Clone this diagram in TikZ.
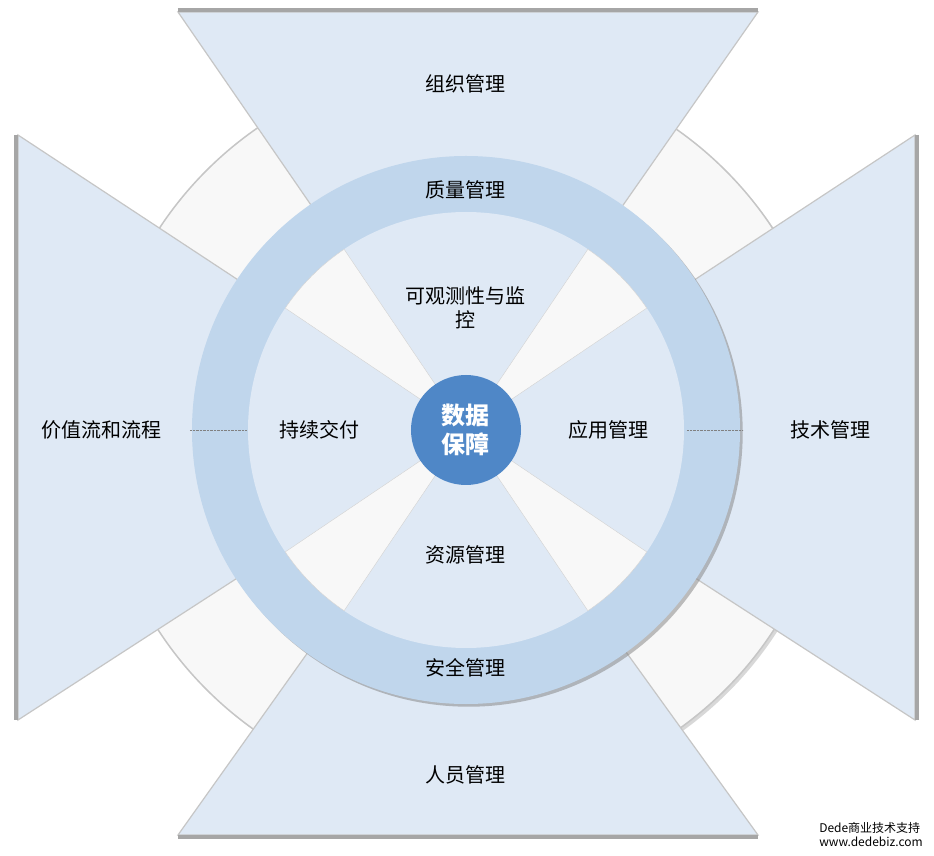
\documentclass[tikz,border=0pt]{standalone}
\usepackage{fontspec}
\setmainfont{Noto Sans CJK SC}
\usetikzlibrary{shadows}
\definecolor{paleblue}{HTML}{DFE9F5}
\definecolor{ringblue}{HTML}{C0D6EC}
\definecolor{hubblue}{HTML}{4F87C7}
\definecolor{offwhite}{HTML}{F8F8F8}
\tikzset{
  wedge/.style={fill=paleblue, draw=gray!45, line width=1.2pt},
  rim/.style={draw=gray!70, line width=4pt},
  lbl/.style={font=\fontsize{20}{24}\selectfont, align=center},
}
\begin{document}
\begin{tikzpicture}[x=1pt,y=1pt]
			\useasboundingbox[fill=white] (-466,-426) rectangle (468,430);
			% outer disc
			\fill[offwhite, draw=gray!45, line width=1.5pt, drop shadow={opacity=0.3}] (0,0) circle (367);
			% four wedges
			\filldraw[wedge] (0,0) -- (-288,418) -- (292,418) -- cycle;
			\filldraw[wedge] (0,0) -- (-288,-405) -- (292,-405) -- cycle;
			\filldraw[wedge] (0,0) -- (-448,295) -- (-448,-290) -- cycle;
			\filldraw[wedge] (0,0) -- (449,295) -- (449,-290) -- cycle;
			\draw[rim] (-288,420) -- (292,420);
			\draw[rim] (-288,-407) -- (292,-407);
			\draw[rim] (-450,295) -- (-450,-290);
			\draw[rim] (451,295) -- (451,-290);
			% ring
			\fill[ringblue, drop shadow={opacity=0.5}] (0,0) circle (274);
			\fill[paleblue] (0,0) circle (218);
			\foreach \a in {45,135,225,315}
				\filldraw[fill=offwhite, draw=gray!35] (0,0) -- (\a-11:218) arc (\a-11:\a+11:218) -- cycle;
			\fill[hubblue] (0,0) circle (55);
			% labels
			\node[lbl] (org) at (0,346) {组织管理};
			\node[lbl] (qual) at (0,240) {质量管理};
			\node[lbl] (obs) at (0,122) {可观测性与监\\控};
			\node[lbl] (deliv) at (-146,0) {持续交付};
			\node[lbl] (app) at (142,0) {应用管理};
			\node[lbl] (res) at (0,-125) {资源管理};
			\node[lbl] (sec) at (0,-238) {安全管理};
			\node[lbl] (ppl) at (0,-345) {人员管理};
			\node[lbl] (flow) at (-364,0) {价值流和流程};
			\node[lbl] (tech) at (364,0) {技术管理};
			\node[lbl, text=white, font=\fontsize{24}{29}\bfseries] (hub) at (0,0) {数据\\保障};
			\coordinate (fl) at (-276,0);
			\coordinate (fr) at (-219,0);
			\coordinate (tl) at (221,0);
			\coordinate (tr) at (277,0);
			\draw[gray, densely dotted, thin] (fl) -- (fr);
			\draw[gray, densely dotted, thin] (tl) -- (tr);
			\node[font=\fontsize{12}{14}\selectfont, align=left] (mark) at (405,-405) {Dede商业技术支持\\www.dedebiz.com};
		\end{tikzpicture}
\end{document}
